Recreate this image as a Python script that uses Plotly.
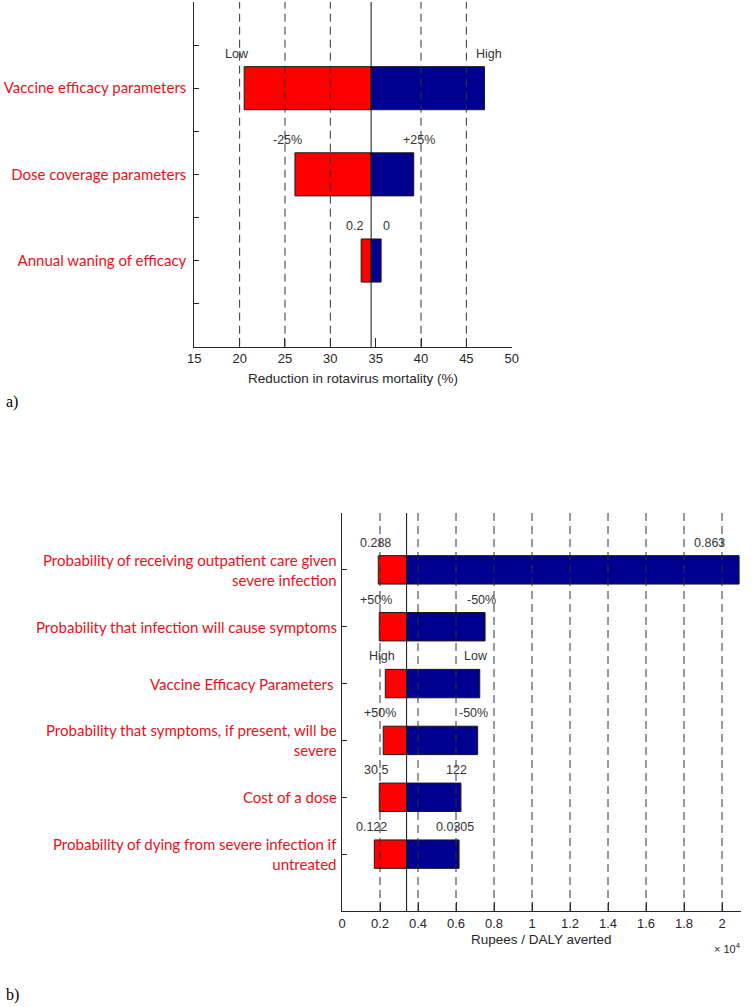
import plotly.graph_objects as go

# ---------------- data: panel a ----------------
params_a = ["Vaccine efficacy parameters", "Dose coverage parameters", "Annual waning of efficacy"]
baseline_a = 34.5
low_a = [20.5, 26.1, 33.4]
high_a = [47.0, 39.2, 35.6]
lowtxt_a = ["Low", "-25%", "0.2"]
hightxt_a = ["High", "+25%", "0"]
xticks_a = [15, 20, 25, 30, 35, 40, 45, 50]
grid_a = [20, 25, 30, 40, 45]

# ---------------- data: panel b ----------------
params_b = [
    "Probability of receiving outpatient care given<br>severe infection",
    "Probability that infection will cause symptoms",
    "Vaccine Efficacy Parameters ",
    "Probability that symptoms, if present, will be<br>severe",
    "Cost of a dose",
    "Probability of dying from severe infection if<br>untreated",
]
baseline_b = 3400
low_b = [1910, 1960, 2280, 2170, 1960, 1700]
high_b = [20900, 7530, 7250, 7140, 6260, 6160]
lowtxt_b = ["0.288", "+50%", "High", "+50%", "30.5", "0.122"]
hightxt_b = ["0.863", "-50%", "Low", "-50%", "122", "0.0305"]
xticks_b = [0, 2000, 4000, 6000, 8000, 10000, 12000, 14000, 16000, 18000, 20000]
xticktext_b = ["0", "0.2", "0.4", "0.6", "0.8", "1", "1.2", "1.4", "1.6", "1.8", "2"]
grid_b = [2000, 4000, 6000, 8000, 10000, 12000, 14000, 16000, 18000, 20000]
xmax_b = 21000

W, H = 752, 1007
RED = "#FF0000"
BLUE = "#000090"
EDGE = "#1a1a1a"
AX = "#262626"
LABEL_RED = "#E8101A"
TICKFONT = dict(family="Liberation Sans, Arial", size=13, color=AX)
TITLEFONT = dict(family="Liberation Sans, Arial", size=13.5, color=AX)
CATFONT = dict(family="Lato, Open Sans", size=15, color=LABEL_RED)
NOTEFONT = dict(family="Liberation Sans, Arial", size=12.5, color="#333333")


def dx(p0, p1):
    return [p0 / W, p1 / W]


def dy(top, bottom):
    return [1 - bottom / H, 1 - top / H]


fig = go.Figure()

pos_a = list(range(1, len(params_a) + 1))
pos_b = list(range(1, len(params_b) + 1))

# panel a bars
fig.add_trace(go.Bar(orientation="h", y=pos_a, base=low_a,
                     x=[baseline_a - v for v in low_a], width=0.5,
                     marker=dict(color=RED, line=dict(color=EDGE, width=1)),
                     xaxis="x", yaxis="y", showlegend=False, hoverinfo="skip"))
fig.add_trace(go.Bar(orientation="h", y=pos_a, base=[baseline_a] * len(pos_a),
                     x=[v - baseline_a for v in high_a], width=0.5,
                     marker=dict(color=BLUE, line=dict(color=EDGE, width=1)),
                     xaxis="x", yaxis="y", showlegend=False, hoverinfo="skip"))

# panel b bars
fig.add_trace(go.Bar(orientation="h", y=pos_b, base=low_b,
                     x=[baseline_b - v for v in low_b], width=0.5,
                     marker=dict(color=RED, line=dict(color=EDGE, width=1)),
                     xaxis="x2", yaxis="y2", showlegend=False, hoverinfo="skip"))
fig.add_trace(go.Bar(orientation="h", y=pos_b, base=[baseline_b] * len(pos_b),
                     x=[v - baseline_b for v in high_b], width=0.5,
                     marker=dict(color=BLUE, line=dict(color=EDGE, width=1)),
                     xaxis="x2", yaxis="y2", showlegend=False, hoverinfo="skip"))

shapes = []
for g in grid_a:
    shapes.append(dict(type="line", xref="x", yref="y domain", x0=g, x1=g, y0=0, y1=1,
                       line=dict(color="#333333", width=1, dash="8px,5px"), layer="above"))
shapes.append(dict(type="line", xref="x", yref="y domain", x0=baseline_a, x1=baseline_a, y0=0, y1=1,
                   line=dict(color="#111111", width=1), layer="above"))
for g in grid_b:
    shapes.append(dict(type="line", xref="x2", yref="y2 domain", x0=g, x1=g, y0=0, y1=1,
                       line=dict(color="#333333", width=1, dash="8px,5px"), layer="above"))
shapes.append(dict(type="line", xref="x2", yref="y2 domain", x0=baseline_b, x1=baseline_b, y0=0, y1=1,
                   line=dict(color="#111111", width=1), layer="above"))

ann = []
for p, lo, hi, lt, ht in zip(pos_a, low_a, high_a, lowtxt_a, hightxt_a):
    ann.append(dict(x=lo, y=p - 0.25, xref="x", yref="y", text=lt, showarrow=False,
                    xanchor="center", yanchor="middle", xshift=-7, yshift=13, font=NOTEFONT))
    ann.append(dict(x=hi, y=p - 0.25, xref="x", yref="y", text=ht, showarrow=False,
                    xanchor="center", yanchor="middle", xshift=5, yshift=13, font=NOTEFONT))
for p, lo, hi, lt, ht in zip(pos_b, low_b, high_b, lowtxt_b, hightxt_b):
    ann.append(dict(x=lo, y=p - 0.25, xref="x2", yref="y2", text=lt, showarrow=False,
                    xanchor="center", yanchor="middle", xshift=-3, yshift=13, font=NOTEFONT))
    ann.append(dict(x=min(hi, 0.93 * xmax_b), y=p - 0.25, xref="x2", yref="y2", text=ht,
                    showarrow=False, xanchor="center", yanchor="middle", xshift=-4, yshift=13,
                    font=NOTEFONT))

# category labels of panel b (multi-line, right aligned)
for p, name in zip(pos_b, params_b):
    ann.append(dict(x=0, y=p, xref="x2 domain", yref="y2", text=name, showarrow=False,
                    xanchor="right", yanchor="middle", align="right", xshift=-3, font=CATFONT))

# axis titles and panel letters
ann.append(dict(x=0.5, y=0, xref="x domain", yref="y domain", text="Reduction in rotavirus mortality (%)",
                showarrow=False, xanchor="center", yanchor="middle", yshift=-32, font=TITLEFONT))
ann.append(dict(x=0.5, y=0, xref="x2 domain", yref="y2 domain", text="Rupees / DALY averted",
                showarrow=False, xanchor="center", yanchor="middle", yshift=-28, font=TITLEFONT))
ann.append(dict(x=1, y=0, xref="x2 domain", yref="y2 domain", text="\u00d7 10<sup>4</sup>",
                showarrow=False, xanchor="right", yanchor="middle", xshift=2, yshift=-37,
                font=dict(family="Liberation Sans, Arial", size=11, color=AX)))
ann.append(dict(x=4 / W, y=1 - 402 / H, xref="paper", yref="paper", text="a)", showarrow=False,
                xanchor="left", yanchor="middle",
                font=dict(family="Liberation Serif, Times New Roman", size=16, color="black")))
ann.append(dict(x=4 / W, y=1 - 995 / H, xref="paper", yref="paper", text="b)", showarrow=False,
                xanchor="left", yanchor="middle",
                font=dict(family="Liberation Serif, Times New Roman", size=16, color="black")))

ytick_a = [0.5 * k for k in range(1, 8)]
ytext_a = [params_a[int(v) - 1] if float(v).is_integer() else " " for v in ytick_a]
ytick_b = list(range(0, len(params_b) + 1))

fig.update_layout(
    width=W, height=H, margin=dict(l=0, r=0, t=0, b=0),
    paper_bgcolor="white", plot_bgcolor="white", barmode="overlay",
    shapes=shapes, annotations=ann,
    xaxis=dict(domain=dx(194.3, 511.7), anchor="y", range=[15, 50], tickvals=xticks_a,
               ticks="inside", ticklen=9, tickcolor=AX, showline=True, linecolor=AX, linewidth=1,
               showgrid=False, zeroline=False, tickfont=TICKFONT, automargin=False),
    yaxis=dict(domain=dy(2, 346.7), anchor="x", range=[4, 0], tickvals=ytick_a, ticktext=ytext_a,
               ticks="inside", ticklen=5, tickcolor=AX, showline=True, linecolor=AX, linewidth=1,
               showgrid=False, zeroline=False, tickfont=CATFONT, automargin=False,
               ticklabelstandoff=4),
    xaxis2=dict(domain=dx(342, 741), anchor="y2", range=[0, xmax_b], tickvals=xticks_b,
                ticktext=xticktext_b, ticks="inside", ticklen=9, tickcolor=AX, showline=True,
                linecolor=AX, linewidth=1, showgrid=False, zeroline=False, tickfont=TICKFONT,
                automargin=False),
    yaxis2=dict(domain=dy(513, 911), anchor="x2", range=[7, 0], tickvals=ytick_b,
                showticklabels=False,
                ticks="inside", ticklen=5, tickcolor=AX, showline=True, linecolor=AX, linewidth=1,
                showgrid=False, zeroline=False, automargin=False),
)

fig.write_html("out.html", config={"displayModeBar": False},
               post_script="document.body.style.margin='0';document.body.style.padding='0';")
